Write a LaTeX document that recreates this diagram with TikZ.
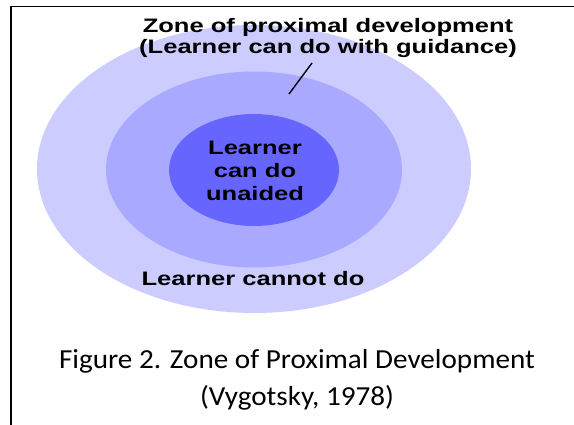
\documentclass[tikz,border=0pt]{standalone}
\usepackage{xcolor}
\usepackage{fontspec}
\usepackage{tikz}
\usetikzlibrary{positioning}

\newfontfamily\zonefont[FakeStretch=1.31]{Liberation Sans}
\newfontfamily\capfont[FakeStretch=1.06]{Carlito}

\definecolor{zoneout}{HTML}{CCCCFF}
\definecolor{zonemid}{HTML}{A9A9FF}
\definecolor{zonein}{HTML}{6666FF}

\tikzset{
  zonelabel/.style={inner sep=0pt, align=center, anchor=base,
    font=\zonefont\bfseries\fontsize{19.5}{21}\selectfont},
  caption/.style={inner sep=0pt, align=center, anchor=base,
    font=\capfont\fontsize{27.5}{37}\selectfont}
}

\begin{document}
\begin{tikzpicture}[x=1pt, y=-1pt]
\useasboundingbox (0,0) rectangle (574,425);
% frame (top and left edges only)
\draw[line width=1.7pt] (574,6.5) -- (11,6.5) -- (11,425);
% three zones
\fill[zoneout] (254,169) ellipse (217 and 144);
\fill[zonemid] (254,169.5) ellipse (148 and 98);
\fill[zonein] (254,170) ellipse (85 and 56);
% labels (base anchor sits on the last line)
\node[zonelabel] (zpd) at (328,54) {Zone of proximal development\\(Learner can do with guidance)};
\node[zonelabel, font=\zonefont\bfseries\fontsize{19.5}{23}\selectfont] (alone) at (255,201) {Learner\\can do\\unaided};
\node[zonelabel] (cannot) at (253,286) {Learner cannot do};
% pointer into the middle zone
\coordinate (ptop) at (312,63);
\coordinate (pend) at (289,94);
\draw[line width=1.4pt] (ptop) -- (pend);
% caption
\node[caption] (fig) at (297,406) {Figure 2. Zone of Proximal Development\\(Vygotsky, 1978)};
\end{tikzpicture}
\end{document}
